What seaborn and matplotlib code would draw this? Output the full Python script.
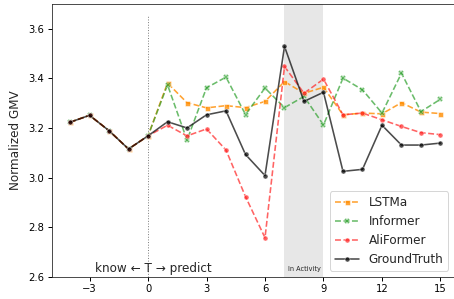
import matplotlib
matplotlib.use("Agg")
import matplotlib.pyplot as plt
import seaborn as sns
import numpy as np

history_x = [-4, -3, -2, -1, 0]
history_y = [3.223, 3.251, 3.189, 3.115, 3.168]
pred_x = list(range(1, 16))

lstma = [3.381, 3.302, 3.281, 3.290, 3.282, 3.307, 3.387, 3.340, 3.364, 3.253,
         3.260, 3.257, 3.302, 3.264, 3.258]
informer = [3.374, 3.151, 3.362, 3.405, 3.254, 3.361, 3.282, 3.327, 3.212, 3.401,
            3.354, 3.260, 3.421, 3.266, 3.316]
aliformer = [3.211, 3.168, 3.196, 3.111, 2.923, 2.757, 3.448, 3.340, 3.397, 3.253,
             3.260, 3.233, 3.206, 3.181, 3.173]
groundtruth = [3.225, 3.200, 3.253, 3.269, 3.093, 3.008, 3.529, 3.307, 3.344, 3.025,
               3.033, 3.211, 3.131, 3.131, 3.139]

series_names = ["LSTMa", "Informer", "AliFormer", "GroundTruth"]
series_vals = [lstma, informer, aliformer, groundtruth]
colors = ["darkorange", "#2ca02c", "#ff2222", "black"]
alphas = [0.8, 0.7, 0.7, 0.7]
markers = ["s", "X", "o", "o"]
dashes = [True, True, True, False]

xticks = [-3, 0, 3, 6, 9, 12, 15]
yticks = [2.6, 2.8, 3.0, 3.2, 3.4, 3.6]

sns.set_style("ticks")
plt.rcParams['font.family'] = ['DejaVu Sans']

fig = plt.figure(figsize=(454 / 72, 299 / 72), dpi=72)
ax = fig.add_axes([51.5 / 454, 22.3 / 299, (459 - 51.5) / 454, (295 - 22.3) / 299])

ax.axvspan(7, 9, color="#e3e3e3", alpha=0.85, lw=0, zorder=0)
ax.vlines(0, 2.6, 3.65, colors="gray", linestyles=":", linewidth=1, zorder=1)

for name, vals, c, a, m, d in zip(series_names, series_vals, colors, alphas, markers, dashes):
    xs = history_x + pred_x
    ys = history_y + vals
    sns.lineplot(x=xs, y=ys, ax=ax, color=c, alpha=a, marker=m,
                 markersize=5 if m != "X" else 5.5,
                 markeredgewidth=0.6 if m != "X" else 0.3,
                 linestyle="--" if d else "-", linewidth=1.6, label=name)

ax.set_xlim(-4.95, 15.95)
ax.set_ylim(2.6, 3.7)
ax.set_xticks(xticks)
ax.set_yticks(yticks)
ax.set_yticklabels([f"{v:.1f}" for v in yticks])
ax.tick_params(labelsize=10, length=4, width=1, colors="black")
for s in ax.spines.values():
    s.set_color("#222222")
ax.set_ylabel("Normalized GMV", fontsize=12, labelpad=6)
ax.text(0.27, 2.62, "know ← T → predict", ha="center", va="baseline", fontsize=12)
ax.text(8, 2.62, "In Activity", ha="center", va="bottom", fontsize=6.5, color="#222222")

leg = ax.legend(loc="lower right", bbox_to_anchor=(448 / 454, 28.3 / 299),
                bbox_transform=fig.transFigure, fontsize=12, frameon=True,
                handlelength=2.0, borderaxespad=0)
leg.get_frame().set_edgecolor("#cccccc")

fig.savefig("out.png", dpi=72)
